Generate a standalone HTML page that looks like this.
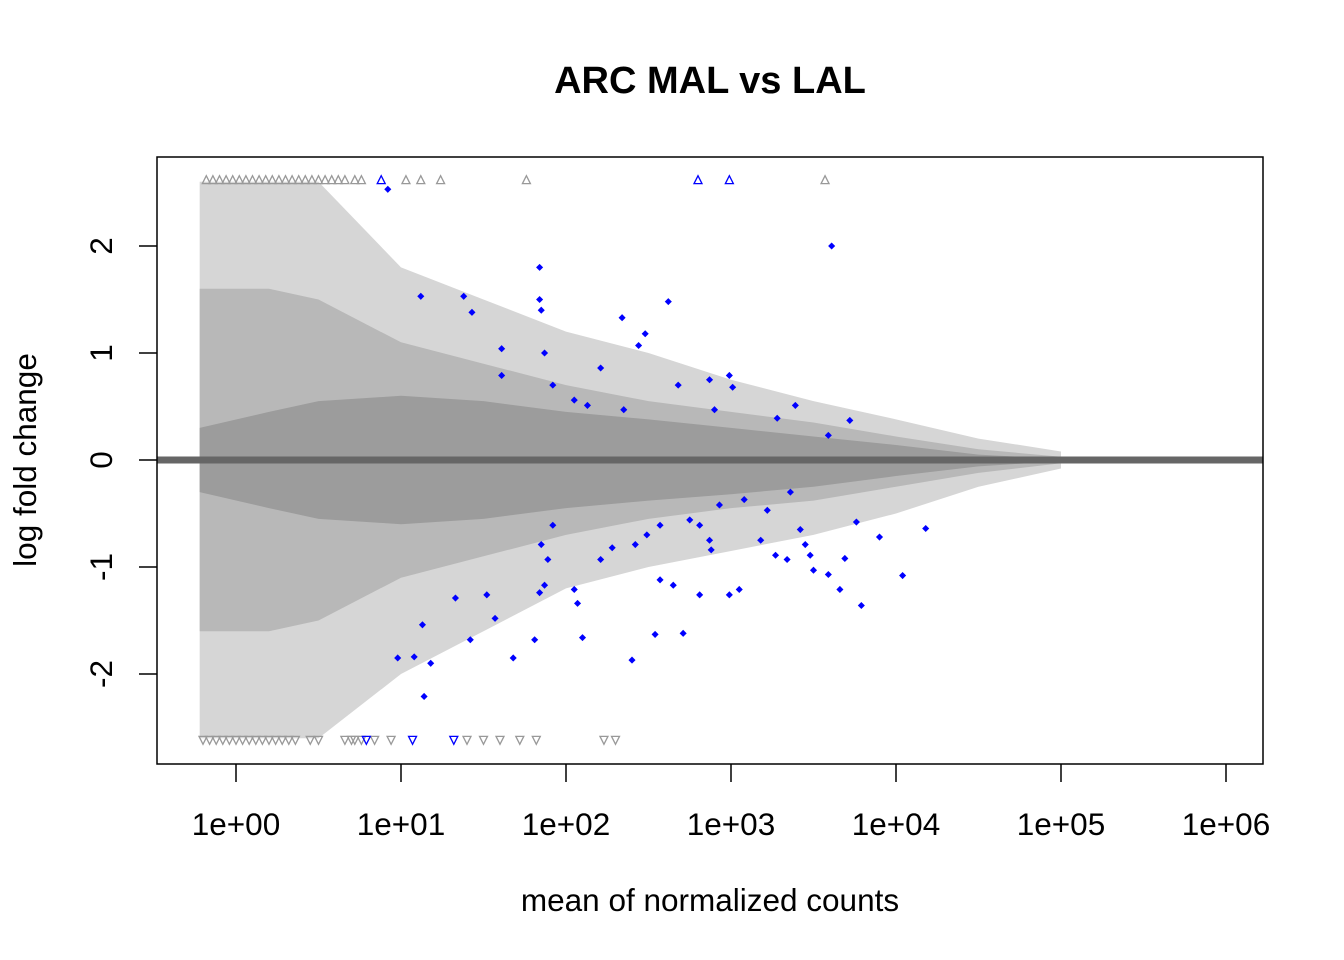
<!DOCTYPE html>
<html><head><meta charset="utf-8"><title>ARC MAL vs LAL</title>
<style>
html,body{margin:0;padding:0;background:#fff;}
svg{display:block;font-family:"Liberation Sans",Arial,sans-serif;}
</style></head>
<body>
<svg id="chart" width="1344" height="960" viewBox="0 0 1344 960">
  <text x="710" y="93" text-anchor="middle" font-size="38" font-weight="bold">ARC MAL vs LAL</text>
  <g id="plot"></g>
  <rect x="157" y="157" width="1106" height="607" fill="none" stroke="#000" stroke-width="1.5"/>
  <g id="xaxis"></g>
  <g id="yaxis"></g>
  <text x="710" y="911" text-anchor="middle" font-size="31.5">mean of normalized counts</text>
  <text transform="translate(36,460) rotate(-90)" text-anchor="middle" font-size="31.5">log fold change</text>
</svg>
<script>
// log10(mean) positions and fold changes
const envX     = [-0.22, 0.2, 0.5, 1.0, 1.5, 2.0, 2.5, 3.0, 3.5, 4.0, 4.5, 5.0];
const outerUp  = [2.6, 2.6, 2.6, 1.8, 1.5, 1.2, 1.0, 0.75, 0.55, 0.38, 0.2, 0.08];
const outerLo  = [-2.6, -2.6, -2.6, -2.0, -1.6, -1.2, -1.0, -0.85, -0.7, -0.5, -0.25, -0.08];
const midUp    = [1.6, 1.6, 1.5, 1.1, 0.9, 0.7, 0.55, 0.45, 0.35, 0.22, 0.1, 0.03];
const midLo    = [-1.6, -1.6, -1.5, -1.1, -0.9, -0.7, -0.55, -0.45, -0.38, -0.25, -0.12, -0.03];
const coreUp   = [0.3, 0.45, 0.55, 0.6, 0.55, 0.45, 0.38, 0.3, 0.22, 0.14, 0.05, 0.01];
const coreLo   = [-0.3, -0.45, -0.55, -0.6, -0.55, -0.45, -0.38, -0.32, -0.25, -0.15, -0.06, -0.01];
const sigX = [0.92,1.12,1.38,1.43,1.84,1.84,1.85,1.87,1.61,1.61,1.92,2.21,2.34,2.48,2.44,2.62,2.68,2.87,2.99,3.01,2.90,3.61,2.05,2.13,2.35,3.39,3.28,3.72,3.59,
  1.92,1.85,1.89,1.87,1.84,2.05,2.07,2.10,1.81,1.68,1.57,1.52,1.42,1.33,1.18,1.14,1.08,0.98,1.13,2.40,2.54,2.57,2.65,2.71,2.81,2.99,3.05,2.42,2.49,2.21,2.28,2.88,2.87,3.18,3.27,3.34,3.42,3.45,3.48,3.50,3.59,3.66,3.69,3.79,3.90,3.76,4.04,4.18,2.93,3.08,2.75,2.81,2.57,3.36,3.22];
const sigY = [2.53,1.53,1.53,1.38,1.80,1.50,1.40,1.0,1.04,0.79,0.70,0.86,1.33,1.18,1.07,1.48,0.70,0.75,0.79,0.68,0.47,2.0,0.56,0.51,0.47,0.51,0.39,0.37,0.23,
  -0.61,-0.79,-0.93,-1.17,-1.24,-1.21,-1.34,-1.66,-1.68,-1.85,-1.48,-1.26,-1.68,-1.29,-1.90,-2.21,-1.84,-1.85,-1.54,-1.87,-1.63,-1.12,-1.17,-1.62,-1.26,-1.26,-1.21,-0.79,-0.70,-0.93,-0.82,-0.84,-0.75,-0.75,-0.89,-0.93,-0.65,-0.79,-0.89,-1.03,-1.07,-1.21,-0.92,-1.36,-0.72,-0.58,-1.08,-0.64,-0.42,-0.37,-0.56,-0.61,-0.61,-0.30,-0.47];
const sigUpTri = [0.88, 2.80, 2.99];
const sigDnTri = [0.79, 1.07, 1.32];
const nsUpTri = [-0.18,-0.14,-0.1,-0.06,-0.02,0.02,0.06,0.1,0.14,0.18,0.22,0.26,0.3,0.34,0.38,0.42,0.46,0.5,0.54,0.58,0.62,0.66,0.72,0.76,1.03,1.12,1.24,1.76,3.57];
const nsDnTri = [-0.2,-0.16,-0.12,-0.08,-0.04,0.0,0.04,0.08,0.12,0.16,0.2,0.24,0.28,0.32,0.36,0.45,0.5,0.66,0.72,0.84,0.7,0.76,0.94,1.4,1.5,1.6,1.72,1.82,2.23,2.3];
const xTicks = [0,1,2,3,4,5,6];
const xTickLabels = ["1e+00","1e+01","1e+02","1e+03","1e+04","1e+05","1e+06"];
const yTicks = [-2,-1,0,1,2];
const yTickLabels = ["-2","-1","0","1","2"];

const NS = "http://www.w3.org/2000/svg";
const X = v => 236 + v * 165;
const Y = v => 460 - v * 107;
const plot = document.getElementById('plot');
function mk(tag, attrs, parent){const e=document.createElementNS(NS,tag);for(const k in attrs)e.setAttribute(k,attrs[k]);(parent||plot).appendChild(e);return e;}

function band(up, lo, color, name){
  let d = "M" + envX.map((x,i)=>X(x)+","+Y(up[i])).join(" L");
  for(let i=envX.length-1;i>=0;i--) d += " L"+X(envX[i])+","+Y(lo[i]);
  const p = mk('path',{d:d+" Z",fill:color,stroke:"none"});
  
  
}
band(outerUp, outerLo, "#d6d6d6", "sparse-gene-cloud");
band(midUp, midLo, "#b8b8b8", "mid-gene-cloud");
band(coreUp, coreLo, "#9c9c9c", "dense-gene-cloud");

const zl = mk('line',{x1:157,x2:1263,y1:Y(0),y2:Y(0),stroke:"#666",'stroke-width':7});



function tri(x, up, color, name){
  const cx=X(x), cy = up ? Y(2.62) : Y(-2.62);
  const pts = up ? [[cx-4,cy+4],[cx+4,cy+4],[cx,cy-4]] : [[cx-4,cy-4],[cx+4,cy-4],[cx,cy+4]];
  const t = mk('polygon',{points:pts.map(p=>p.join(',')).join(' '),fill:"none",stroke:color,'stroke-width':1.3});
  
  
}
nsUpTri.forEach(x=>tri(x,true,"#999","clipped-gene-up"));
nsDnTri.forEach(x=>tri(x,false,"#999","clipped-gene-down"));
sigUpTri.forEach(x=>tri(x,true,"#0000ff","significant-clipped-up"));
sigDnTri.forEach(x=>tri(x,false,"#0000ff","significant-clipped-down"));

sigX.forEach((x,i)=>{
  const c = mk('rect',{x:X(x)-2.5,y:Y(sigY[i])-2.5,width:5,height:5,fill:"#0000ff",transform:`rotate(45 ${X(x)} ${Y(sigY[i])})`});
  
  
});

const xa = document.getElementById('xaxis');
xTicks.forEach((t,i)=>{
  mk('line',{x1:X(t),x2:X(t),y1:764,y2:782,stroke:"#000",'stroke-width':1.5},xa);
  const tx = mk('text',{x:X(t),y:835,'text-anchor':'middle','font-size':31.5},xa);
  tx.textContent = xTickLabels[i];
  
  
});
const ya = document.getElementById('yaxis');
yTicks.forEach((t,i)=>{
  mk('line',{x1:139,x2:157,y1:Y(t),y2:Y(t),stroke:"#000",'stroke-width':1.5},ya);
  const tx = mk('text',{x:112,y:Y(t),'text-anchor':'middle','font-size':31.5,transform:`rotate(-90 112 ${Y(t)})`},ya);
  tx.textContent = yTickLabels[i];
  
  
});
</script>
</body></html>
